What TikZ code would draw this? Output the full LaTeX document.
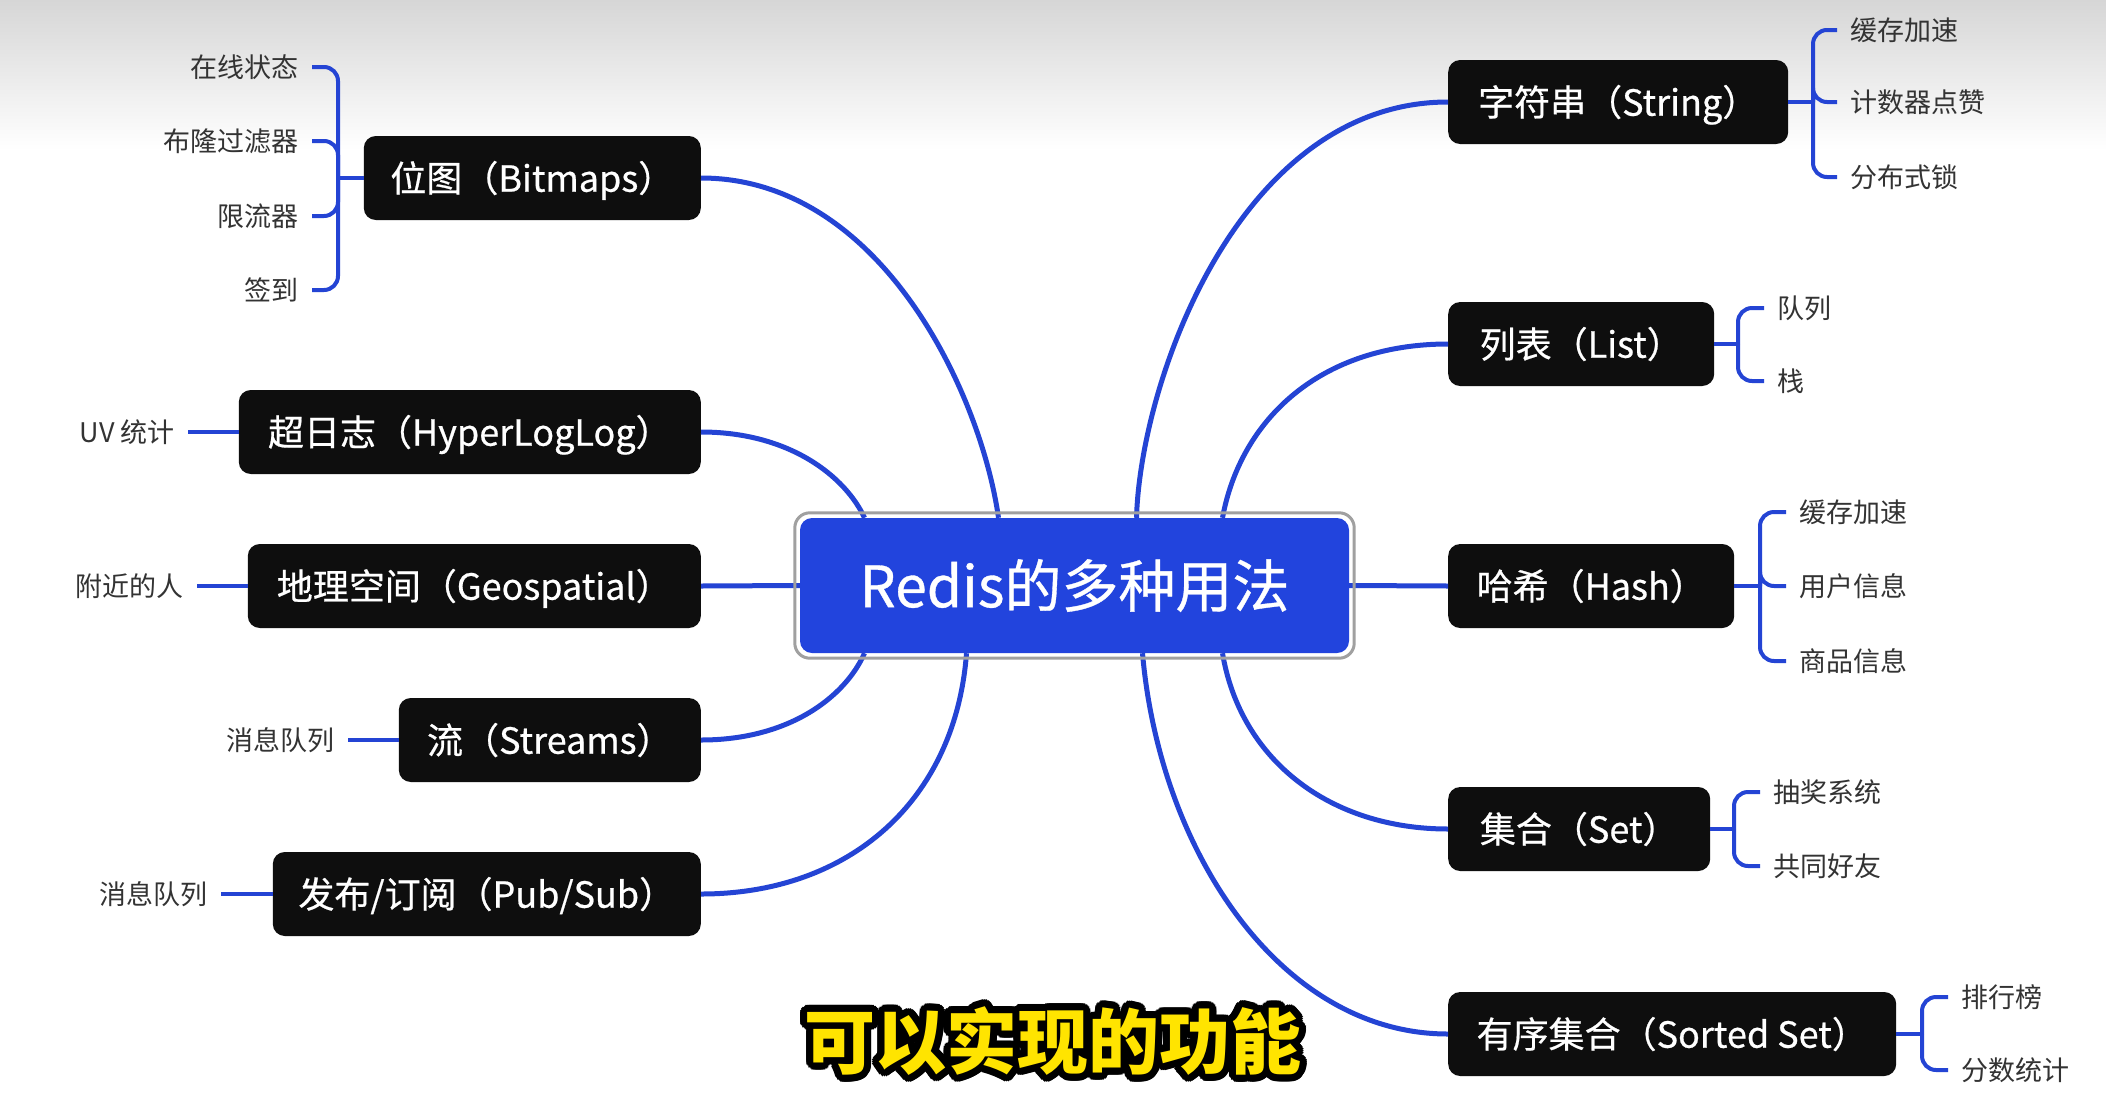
\documentclass[tikz,border=0pt]{standalone}
\usepackage{fontspec}
\setmainfont{Noto Sans CJK SC}
\newfontfamily\medfont{Noto Sans CJK SC}[FakeBold=0.6]
\usetikzlibrary{calc}
\definecolor{linkblue}{RGB}{36,68,212}
\definecolor{coreblue}{RGB}{34,68,221}
\definecolor{boxblack}{RGB}{14,14,14}
\definecolor{subgray}{RGB}{51,51,51}
\definecolor{bordergray}{RGB}{160,160,160}
\definecolor{bggray}{RGB}{214,214,214}
\definecolor{capyellow}{RGB}{255,228,0}
\begin{document}
\begin{tikzpicture}[x=1pt,y=-1pt,
  mainbox/.style={fill=boxblack, rounded corners=12pt, text=white,
    font=\medfont\fontsize{36}{42}\selectfont, minimum height=84pt, inner xsep=0pt, inner ysep=0pt,
    text height=31.7pt, text depth=4.3pt},
  subl/.style={font=\fontsize{27}{32}\selectfont, text=subgray, inner xsep=13pt, inner ysep=2pt, anchor=east},
  subr/.style={font=\fontsize{27}{32}\selectfont, text=subgray, inner xsep=13pt, inner ysep=2pt, anchor=west},
  link/.style={draw=linkblue, line width=5pt},
  brk/.style={draw=linkblue, line width=4pt, rounded corners=14pt},
  captext/.style={font=\fontsize{71}{80}\selectfont\bfseries, inner sep=0pt}
]
\useasboundingbox (0,0) rectangle (2106,1098);
\fill[white] (0,0) rectangle (2106,1098);
\shade[top color=bggray, bottom color=white] (0,0) rectangle (2106,150);

% centre
\node[fill=coreblue, rounded corners=12pt, minimum width=549pt, minimum height=135pt,
  text=white, font=\medfont\fontsize{57}{66}\selectfont, inner sep=0pt,
  text height=50.2pt, text depth=6.8pt] (c) at (1074.5,585.5) {Redis的多种用法};

% left main nodes
\node[mainbox, anchor=east, minimum width=337pt] (bm) at (701,178) {位图（Bitmaps）};
\node[mainbox, anchor=east, minimum width=462pt] (hll) at (701,432) {超日志（HyperLogLog）};
\node[mainbox, anchor=east, minimum width=453pt] (geo) at (701,586) {地理空间（Geospatial）};
\node[mainbox, anchor=east, minimum width=302pt] (st) at (701,740) {流（Streams）};
\node[mainbox, anchor=east, minimum width=428pt] (pub) at (701,894) {发布/订阅（Pub/Sub）};

% right main nodes
\node[mainbox, anchor=west, minimum width=340pt] (sg) at (1448,102) {字符串（String）};
\node[mainbox, anchor=west, minimum width=266pt] (li) at (1448,344) {列表（List）};
\node[mainbox, anchor=west, minimum width=286pt] (ha) at (1448,586) {哈希（Hash）};
\node[mainbox, anchor=west, minimum width=262pt] (se) at (1448,829) {集合（Set）};
\node[mainbox, anchor=west, minimum width=448pt] (zs) at (1448,1034) {有序集合（Sorted Set）};

% main connectors
\draw[link] (bm.east) .. controls +(179,0) and +(-18,-126) .. ([xshift=-76pt]c.north);
\draw[link] (hll.east) .. controls +(89,0) and +(-19,-41) .. ([xshift=-210pt]c.north);
\draw[link] (geo.east) -- (c.west);
\draw[link] (st.east) .. controls +(89,0) and +(-19,43) .. ([xshift=-210pt]c.south);
\draw[link] (pub.east) .. controls +(149,0) and +(-11,147) .. ([xshift=-108pt]c.south);
\draw[link] (sg.west) .. controls +(-208,0) and +(4,-138) .. ([xshift=62pt]c.north);
\draw[link] (li.west) .. controls +(-128,0) and +(18,-98) .. ([xshift=148pt]c.north);
\draw[link] (ha.west) -- (c.east);
\draw[link] (se.west) .. controls +(-118,0) and +(18,107) .. ([xshift=148pt]c.south);
\draw[link] (zs.west) .. controls +(-168,0) and +(17,197) .. ([xshift=68pt]c.south);

\draw[bordergray, line width=3pt, rounded corners=15pt]
  ([shift={(-5pt,5pt)}]c.north west) rectangle ([shift={(5pt,-5pt)}]c.south east);

% Bitmaps items
\node[subl] (bm1) at (312,67) {在线状态};
\node[subl] (bm2) at (312,141) {布隆过滤器};
\node[subl] (bm3) at (312,216) {限流器};
\node[subl] (bm4) at (312,290) {签到};
\coordinate (bmJ) at (338,178);
\foreach \n in {bm1,bm2,bm3,bm4} \draw[brk] (\n.east) -| (bmJ);
\draw[brk] (bmJ) -- (bm.west);

% single left items
\node[subl] (uv) at (188,432) {UV 统计};
\node[subl] (fj) at (197,586) {附近的人};
\node[subl] (mq1) at (348,740) {消息队列};
\node[subl] (mq2) at (221,894) {消息队列};
\draw[brk] (uv.east) -- (hll.west);
\draw[brk] (fj.east) -- (geo.west);
\draw[brk] (mq1.east) -- (st.west);
\draw[brk] (mq2.east) -- (pub.west);

% String items
\node[subr] (sg1) at (1837,30) {缓存加速};
\node[subr] (sg2) at (1837,102) {计数器点赞};
\node[subr] (sg3) at (1837,177) {分布式锁};
\coordinate (sgJ) at (1813,102);
\foreach \n in {sg1,sg2,sg3} \draw[brk] (\n.west) -| (sgJ);
\draw[brk] (sg.east) -- (sgJ);

% List items
\node[subr] (li1) at (1764,308) {队列};
\node[subr] (li2) at (1764,381) {栈};
\coordinate (liJ) at (1738,344);
\foreach \n in {li1,li2} \draw[brk] (\n.west) -| (liJ);
\draw[brk] (li.east) -- (liJ);

% Hash items
\node[subr] (ha1) at (1786,512) {缓存加速};
\node[subr] (ha2) at (1786,586) {用户信息};
\node[subr] (ha3) at (1786,661) {商品信息};
\coordinate (haJ) at (1760,586);
\foreach \n in {ha1,ha2,ha3} \draw[brk] (\n.west) -| (haJ);
\draw[brk] (ha.east) -- (haJ);

% Set items
\node[subr] (se1) at (1760,792) {抽奖系统};
\node[subr] (se2) at (1760,866) {共同好友};
\coordinate (seJ) at (1734,829);
\foreach \n in {se1,se2} \draw[brk] (\n.west) -| (seJ);
\draw[brk] (se.east) -- (seJ);

% Sorted set items
\node[subr] (zs1) at (1948,997) {排行榜};
\node[subr] (zs2) at (1948,1070) {分数统计};
\coordinate (zsJ) at (1922,1034);
\foreach \n in {zs1,zs2} \draw[brk] (\n.west) -| (zsJ);
\draw[brk] (zs.east) -- (zsJ);

% caption with outline
\foreach \a [count=\i] in {0,15,...,345}
  \node[captext, text=black] (capo\i) at ($(1053,1041)+(\a:7)$) {可以实现的功能};
\node[captext, text=capyellow] (cap) at (1053,1041) {可以实现的功能};
\end{tikzpicture}
\end{document}
